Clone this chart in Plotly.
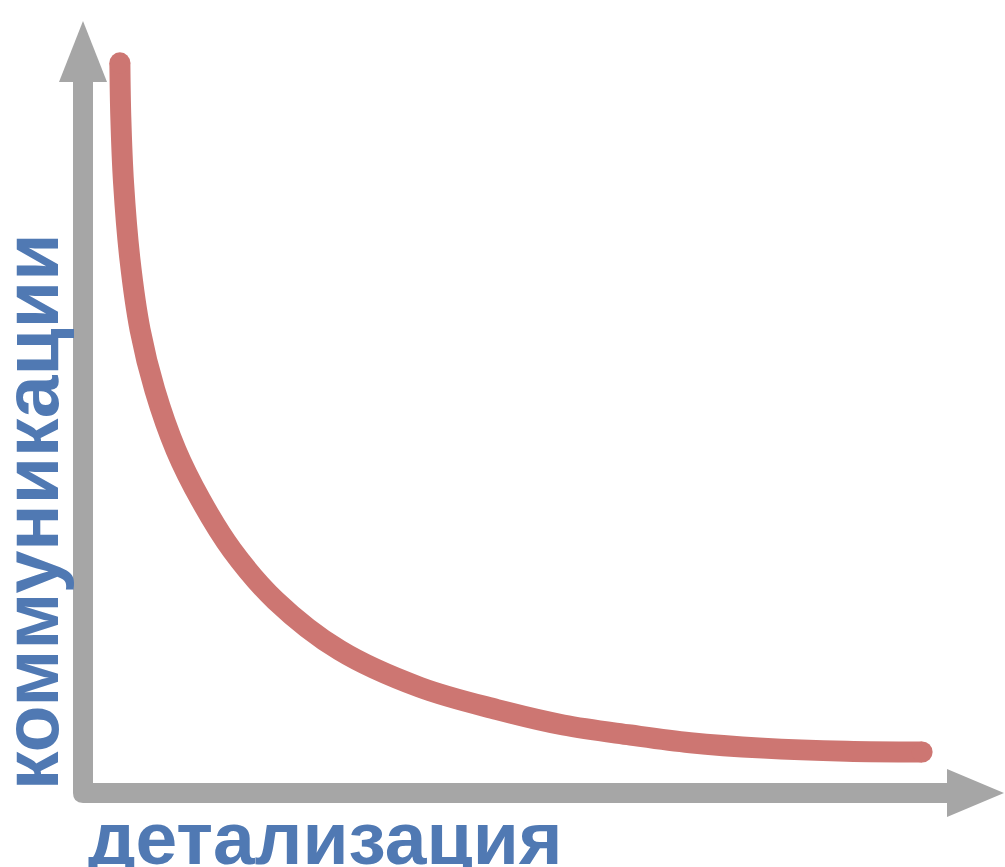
import plotly.graph_objects as go

# Data: level of detail (x) vs. communications (y)
detail = [0.39, 0.40, 0.43, 0.50, 0.61, 0.77, 1.00, 1.27, 1.61, 2.08, 2.78, 3.65,
          4.49, 5.21, 5.94, 6.59, 7.38, 8.29, 9.11]
communication = [9.47, 8.77, 7.91, 6.91, 6.00, 5.22, 4.44, 3.79, 3.14, 2.49, 1.84, 1.36,
                 1.07, 0.87, 0.74, 0.64, 0.57, 0.53, 0.52]
x_label = "детализация"
y_label = "коммуникации"

W, H = 1005, 867
RED = "#CD7672"
GRAY = "#A6A6A6"
BLUE = "#5079B3"

# data scale: origin at pixel (84, 792); 92 px per x unit, 77 px per y unit
x_range = [-84 / 92, (W - 84) / 92]
y_range = [-(H - 792) / 77, 792 / 77]


def P(px, py):
    return px / W, 1 - py / H


def pt(px, py):
    x, y = P(px, py)
    return f"{x:.5f},{y:.5f}"


axis_path = (
    f"M {pt(73, 82)} L {pt(93, 82)} L {pt(93, 783)} L {pt(947, 783)} "
    f"L {pt(947, 803)} L {pt(83, 803)} Q {pt(73, 803)} {pt(73, 793)} Z"
)
up_arrow = f"M {pt(59, 82)} L {pt(83, 21)} L {pt(107, 82)} Z"
right_arrow = f"M {pt(947, 769)} L {pt(1004, 793)} L {pt(947, 817)} Z"

fig = go.Figure()
fig.add_trace(go.Scatter(
    x=detail, y=communication, mode="lines",
    line=dict(color=RED, width=21, shape="spline", smoothing=1.0),
    hoverinfo="skip", showlegend=False,
))
fig.add_trace(go.Scatter(
    x=[detail[0], detail[-1]], y=[communication[0], communication[-1]],
    mode="markers", marker=dict(color=RED, size=21, line=dict(width=0)),
    hoverinfo="skip", showlegend=False,
))

shapes = []
for p in (axis_path, up_arrow, right_arrow):
    shapes.append(dict(type="path", path=p, xref="paper", yref="paper",
                       fillcolor=GRAY, line=dict(width=0), layer="below"))

fx, fy = P(325, 838)
vx, vy = P(31, 512)
annotations = [
    dict(text=f"<b>{x_label}</b>", x=fx, y=fy, xref="paper", yref="paper",
         xanchor="center", yanchor="middle", showarrow=False,
         font=dict(family="Liberation Sans", size=75, color=BLUE)),
    dict(text=f"<b>{y_label}</b>", x=vx, y=vy, xref="paper", yref="paper",
         xanchor="center", yanchor="middle", showarrow=False, textangle=-90,
         font=dict(family="Liberation Sans", size=77, color=BLUE)),
]

fig.update_layout(
    width=W, height=H,
    margin=dict(l=0, r=0, t=0, b=0),
    paper_bgcolor="white", plot_bgcolor="white",
    xaxis=dict(range=x_range, visible=False, fixedrange=True),
    yaxis=dict(range=y_range, visible=False, fixedrange=True),
    shapes=shapes, annotations=annotations,
)

fig.write_html(
    "out.html",
    config={"displayModeBar": False},
    post_script="document.body.style.margin='0';document.body.style.overflow='hidden';",
)
